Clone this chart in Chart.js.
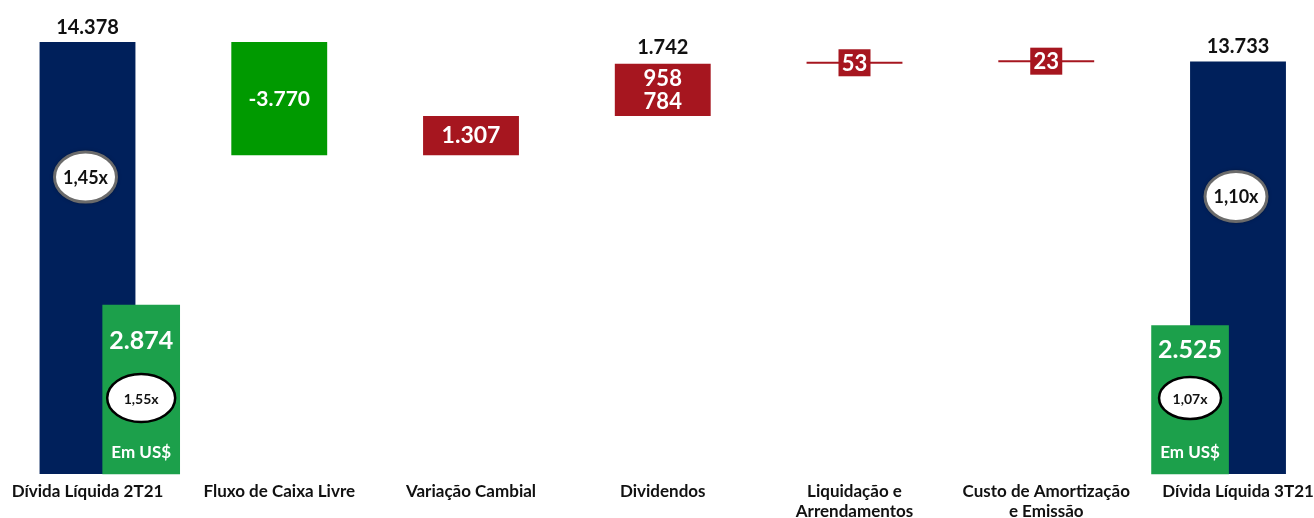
<!DOCTYPE html>
<html>
<head>
<meta charset="utf-8">
<script src="https://cdn.jsdelivr.net/npm/chart.js"></script>
<style>
  html, body { margin: 0; padding: 0; background: #fff; }
  #wrap { width: 1314px; height: 518px; }
</style>
</head>
<body>
<div id="wrap"><canvas id="bridge"></canvas></div>
<script>
/* ---------- DATA ---------- */
const categories = [
  "Dívida Líquida 2T21",
  "Fluxo de Caixa Livre",
  "Variação Cambial",
  "Dividendos",
  ["Liquidação e", "Arrendamentos"],
  ["Custo de Amortização", "e Emissão"],
  "Dívida Líquida 3T21"
];
const openingDebt = 14378;
const closingDebt = 13733;
const steps = [-3770, 1307, 1742, 53, 23];   // Fluxo, Variação, Dividendos, Liquidação, Custo
const dividendParts = [958, 784];
const debtLeverage = ["1,45x", "1,10x"];
const usdDebt = [2874, 2525];
const usdLeverage = ["1,55x", "1,07x"];

/* ---------- COLORS ---------- */
const NAVY = "#00205b";
const CASH_GREEN = "#009a00";
const USD_GREEN = "#1ca04b";
const RED = "#a6161f";

function fmt(n) {
  const s = Math.abs(n).toString().replace(/\B(?=(\d{3})+(?!\d))/g, ".");
  return (n < 0 ? "-" : "") + s;
}

/* waterfall ranges built from the steps */
const ranges = [[0, openingDebt]];
let level = openingDebt;
steps.forEach(d => {
  const next = level + d;
  ranges.push([Math.min(level, next), Math.max(level, next)]);
  level = next;
});
ranges.push([0, closingDebt]);
const barColors = [NAVY, CASH_GREEN, RED, RED, RED, RED, NAVY];

const FONT = "Lato, 'Open Sans', sans-serif";

function ellipse(ctx, x, y, rx, ry, text, style) {
  ctx.save();
  ctx.beginPath();
  ctx.ellipse(x, y, rx, ry, 0, 0, Math.PI * 2);
  ctx.fillStyle = "#fff";
  if (style === "soft") {
    ctx.shadowColor = "rgba(0,0,0,0.6)";
    ctx.shadowBlur = 4;
  }
  ctx.fill();
  ctx.shadowBlur = 0;
  ctx.lineWidth = style === "soft" ? 3 : 2.5;
  ctx.strokeStyle = style === "soft" ? "#6b6b6b" : "#000";
  ctx.stroke();
  ctx.fillStyle = "#111";
  ctx.font = (style === "soft" ? "bold 18px " : "bold 14px ") + FONT;
  ctx.textAlign = "center";
  ctx.textBaseline = "middle";
  ctx.fillText(text, x, y + 1);
  ctx.restore();
}

function text(ctx, str, x, y, size, color) {
  ctx.fillStyle = color;
  ctx.font = "bold " + size + "px " + FONT;
  ctx.textAlign = "center";
  ctx.textBaseline = "middle";
  ctx.fillText(str, x, y);
}

/* ---------- LABELS ---------- */
const labelPlugin = {
  id: "bridgeLabels",
  afterDatasetsDraw(chart) {
    const ctx = chart.ctx;
    const usd = chart.getDatasetMeta(0).data;
    const bars = chart.getDatasetMeta(1).data;
    ctx.save();

    // opening / closing debt
    [0, 6].forEach((idx, k) => {
      const b = bars[idx];
      text(ctx, fmt(ranges[idx][1]), b.x, b.y - 15, 20, "#111");
      ellipse(ctx, b.x - 2, b.y + 135, 31, 25, debtLeverage[k], "soft");
    });

    // cash flow and fx
    [1, 2].forEach(idx => {
      const b = bars[idx];
      text(ctx, fmt(steps[idx - 1]), b.x, (b.y + b.base) / 2, idx === 1 ? 21 : 23, "#fff");
    });

    // dividends
    const dv = bars[3];
    text(ctx, fmt(steps[2]), dv.x, dv.y - 16, 20, "#111");
    const mid = (dv.y + dv.base) / 2;
    text(ctx, fmt(dividendParts[0]), dv.x, mid - 11, 22, "#fff");
    text(ctx, fmt(dividendParts[1]), dv.x, mid + 12, 22, "#fff");

    // small steps: boxed values
    [4, 5].forEach(idx => {
      const b = bars[idx];
      const cy = (b.y + b.base) / 2;
      ctx.fillStyle = RED;
      ctx.fillRect(b.x - 16, cy - 13.5, 32, 27);
      text(ctx, fmt(steps[idx - 1]), b.x, cy + 1, 22, "#fff");
    });

    // usd debt
    usd.forEach((b, k) => {
      text(ctx, fmt(usdDebt[k]), b.x, b.base - (k === 0 ? 133 : 124), 25, "#fff");
      ellipse(ctx, b.x, b.base - 76, k === 0 ? 34 : 31, k === 0 ? 24 : 21, usdLeverage[k], "hard");
      text(ctx, "Em US$", b.x, b.base - 21, 17, "#fff");
    });
    ctx.restore();
  }
};

new Chart(document.getElementById("bridge"), {
  type: "bar",
  data: {
    labels: categories,
    datasets: [
      {
        label: "Em US$",
        data: [
          { x: 0.28, y: usdDebt[0] },
          { x: 5.75, y: usdDebt[1] }
        ],
        xAxisID: "xg",
        yAxisID: "y2",
        backgroundColor: USD_GREEN,
        barThickness: 77,
        grouped: false,
        clip: false
      },
      {
        label: "Dívida Líquida",
        data: ranges,
        backgroundColor: barColors,
        barPercentage: 0.5,
        categoryPercentage: 1,
        minBarLength: 2,
        grouped: false,
        clip: false
      }
    ]
  },
  options: {
    responsive: true,
    maintainAspectRatio: false,
    animation: false,
    layout: { padding: { left: 87.5, right: 76, top: 0, bottom: 0 } },
    plugins: { legend: { display: false }, tooltip: { enabled: false } },
    scales: {
      x: {
        type: "category",
        offset: false,
        grid: { display: false, drawTicks: false },
        border: { display: false },
        ticks: {
          autoSkip: false,
          maxRotation: 0,
          padding: 8,
          color: "#111",
          font: { family: FONT, size: 17, weight: "bold", lineHeight: 1.15 }
        },
        afterFit: s => { s.height = 44; s.paddingLeft = 0; s.paddingRight = 0; }
      },
      xg: { type: "linear", min: 0, max: 6, offset: false, display: false },
      y: { min: 0, max: 15780, display: false },
      y2: { min: 0, max: 8060, display: false }
    }
  },
  plugins: [labelPlugin]
});
</script>
</body>
</html>
